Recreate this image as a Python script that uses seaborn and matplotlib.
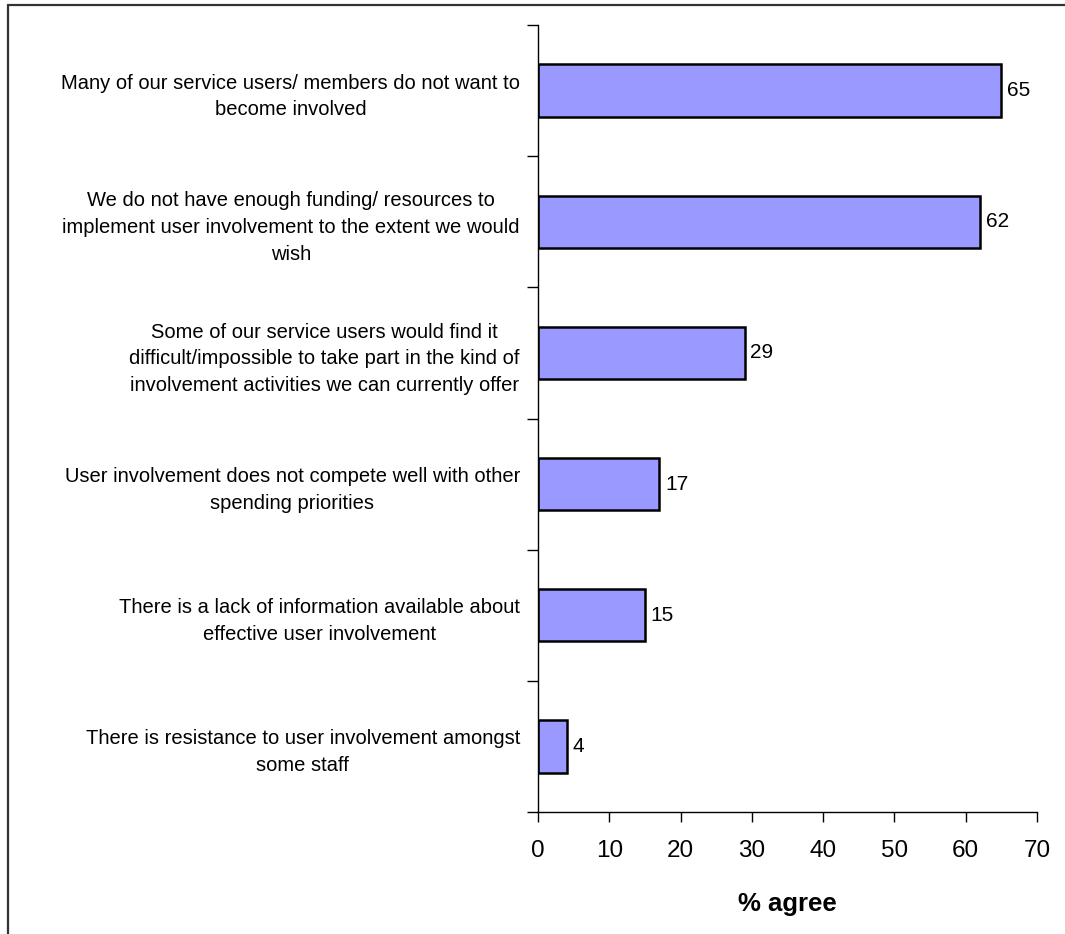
import matplotlib
matplotlib.use("Agg")
import matplotlib.pyplot as plt
from matplotlib.lines import Line2D
from matplotlib.ticker import FixedLocator, NullFormatter
import seaborn as sns
import pandas as pd

# Survey statements and share of respondents agreeing
statements = [
    "Many of our service users/ members do not want to\nbecome involved",
    "We do not have enough funding/ resources to\nimplement user involvement to the extent we would\nwish",
    "Some of our service users would find it\ndifficult/impossible to take part in the kind of\ninvolvement activities we can currently offer",
    "User involvement does not compete well with other\nspending priorities",
    "There is a lack of information available about\neffective user involvement",
    "There is resistance to user involvement amongst\nsome staff",
]
pct_agree = [65, 62, 29, 17, 15, 4]
x_ticks = [0, 10, 20, 30, 40, 50, 60, 70]

df = pd.DataFrame({"statement": statements, "pct": pct_agree})

sns.set_theme(style="white")
plt.rcParams["font.family"] = ["Liberation Sans", "DejaVu Sans"]
plt.rcParams["text.color"] = "black"
plt.rcParams["axes.labelcolor"] = "black"
plt.rcParams["xtick.color"] = "black"
plt.rcParams["ytick.color"] = "black"

fig = plt.figure(figsize=(10.65, 9.34), dpi=100)
ax = fig.add_axes([538 / 1065, (934 - 812) / 934, (1037 - 538) / 1065, (812 - 25) / 934])

sns.barplot(data=df, x="pct", y="statement", orient="h", color="#9999FF",
            saturation=1, width=0.4, edgecolor="black", linewidth=1.8, ax=ax)

ax.set_xlim(0, 70)
ax.set_ylim(len(statements) - 0.5, -0.5)
ax.set_xticks(x_ticks)
ax.set_xticklabels([str(t) for t in x_ticks], fontsize=17.5)

# category labels at centres, tick marks at category boundaries
ax.set_yticks(range(len(statements)))
ax.set_yticklabels(statements, fontsize=14.5, multialignment="center", linespacing=1.5)
ax.yaxis.set_minor_locator(FixedLocator([i - 0.5 for i in range(len(statements) + 1)]))
ax.yaxis.set_minor_formatter(NullFormatter())
ax.tick_params(axis="y", which="major", length=0, pad=13)
ax.tick_params(axis="y", which="minor", left=True, length=8, width=1, color="black", direction="out")
ax.tick_params(axis="x", which="major", bottom=True, length=7, width=1, color="black",
               direction="out", pad=13)

ax.set_xlabel("% agree", fontsize=18.5, fontweight="bold", labelpad=22)
ax.set_ylabel("")

for side in ["top", "right"]:
    ax.spines[side].set_visible(False)
for side in ["left", "bottom"]:
    ax.spines[side].set_color("black")
    ax.spines[side].set_linewidth(1)

for i, v in enumerate(pct_agree):
    ax.text(v + 0.8, i, str(v), va="center", ha="left", fontsize=15, color="black")

# outer frame (top and left edges)
fig.add_artist(Line2D([8 / 1065, 8 / 1065], [0, 1 - 5 / 934], transform=fig.transFigure,
                      color="#333333", linewidth=1.6))
fig.add_artist(Line2D([8 / 1065, 1], [1 - 5 / 934, 1 - 5 / 934], transform=fig.transFigure,
                      color="#333333", linewidth=1.6))

fig.savefig("out.png", dpi=100)
